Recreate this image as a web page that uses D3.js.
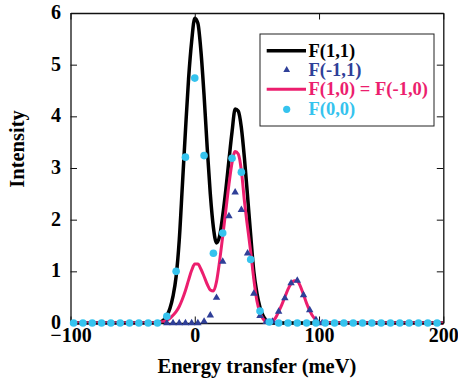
<!DOCTYPE html>
<html>
<head>
	<meta charset="utf-8">
	<script src="https://d3js.org/d3.v7.min.js"></script>
	<style>
		text { font-family: "Liberation Serif"; font-weight: bold; }
	</style>
</head>
<body style="margin:0">
	<svg width="458" height="386" font-family="Liberation Serif"></svg>
	<script>
		// energy grid of the two calculated curves (meV)
		const lineE = [-100, -32.5, -30, -27.5, -25, -22.5, -20, -17.5, -15, -12.5, -10, -7.5, -5, -2.5,
			0, 2.5, 5, 7.5, 10, 12.5, 15, 17.5, 20, 22.5, 25, 27.5, 30, 32.5, 35, 37.5, 40, 42.5, 45,
			47.5, 50, 52.5, 55, 57.5, 60, 62.5, 65, 67.5, 70, 72.5, 75, 77.5, 80, 82.5, 85, 87.5, 90,
			92.5, 95, 97.5, 100, 102.5, 105, 200];

		// F(1,1)
		const f11 = [0, 0, 0, 0.02, 0.06, 0.14, 0.28, 0.52, 0.9, 1.6, 2.65, 3.72, 4.72, 5.45,
			5.9, 5.8, 5.25, 4.4, 3.4, 2.5, 1.85, 1.55, 1.68, 2.08, 2.58, 3.15, 3.7, 4.14, 4.1, 3.78, 3.18, 2.45, 1.7,
			1.0, 0.58, 0.3, 0.14, 0.05, 0.01, 0, 0, 0, 0, 0, 0, 0, 0, 0, 0, 0, 0,
			0, 0, 0, 0, 0, 0, 0];

		// F(1,0) = F(-1,0)
		const f10 = [0, 0, 0.01, 0.02, 0.03, 0.05, 0.09, 0.15, 0.22, 0.32, 0.46, 0.63, 0.83, 1.02,
			1.14, 1.14, 1.04, 0.9, 0.75, 0.64, 0.62, 0.8, 1.2, 1.68, 2.18, 2.68, 3.1, 3.32, 3.27, 2.95, 2.35, 1.85, 1.38,
			0.85, 0.43, 0.2, 0.08, 0.02, 0, 0.03, 0.1, 0.22, 0.35, 0.5, 0.65, 0.76, 0.82, 0.81, 0.71, 0.55, 0.38,
			0.24, 0.13, 0.06, 0.02, 0, 0, 0];

		// F(-1,1) points
		const triE = [-22.5, -17.5, -12.5, -7.5, -2.5, 2.5, 7.5, 12.5, 17.5, 22.5, 27.5, 32.5, 37.5, 42.5,
			47.5, 52.5, 57.5, 62.5, 67.5, 72.5, 77.5, 82.5, 87.5, 92.5, 97.5, 102.5];
		const fm11 = [0, 0, 0, 0, 0, 0, 0.03, 0.15, 0.49, 1.19, 2.07, 2.53, 2.19, 1.35,
			0.57, 0.14, 0.02, 0.03, 0.22, 0.48, 0.77, 0.82, 0.54, 0.25, 0.06, 0];

		// F(0,0) points
		const dotE = [-97.5, -90, -82.5, -75, -67.5, -60, -52.5, -45, -37.5, -30, -22.5, -15, -7.5, 0,
			7.5, 15, 22.5, 30, 37.5, 45, 52.5, 60, 67.5, 75, 82.5, 90, 97.5, 105, 112.5, 120, 127.5,
			135, 142.5, 150, 157.5, 165, 172.5, 180, 187.5, 195];
		const f00 = [0, 0, 0, 0, 0, 0, 0, 0, 0, 0, 0.13, 1.0, 3.21, 4.74,
			3.24, 1.35, 1.74, 3.19, 2.92, 1.23, 0.23, 0.02, 0, 0, 0, 0, 0, 0, 0, 0, 0,
			0, 0, 0, 0, 0, 0, 0, 0, 0];

		const xTicks = [-100, 0, 100, 200];
		const yTicks = [0, 1, 2, 3, 4, 5, 6];
		const legendNames = ["F(1,1)", "F(-1,1)", "F(1,0) = F(-1,0)", "F(0,0)"];

		const cBlack = "#000000", cBlue = "#2f3f98", cPink = "#ec1e6e", cCyan = "#35c3ee";
		const serif = '"Liberation Serif"';

		const svg = d3.select("svg"),
			margin = {top: 13, right: 15, bottom: 63, left: 70.5},
			width = 443.3 - margin.left,
			height = 323 - margin.top,
			g = svg.append("g").attr("transform", `translate(${margin.left},${margin.top})`);

		const x = d3.scaleLinear().domain([-100, 200]).range([0, width]);
		const y = d3.scaleLinear().domain([0, 6]).range([height, 0]);

		// curves
		const line = d3.line().x(d => x(d[0])).y(d => y(d[1])).curve(d3.curveMonotoneX);
		g.append("path")
			.datum(lineE.map((e, i) => [e, f11[i]]))
			.attr("fill", "none").attr("stroke", cBlack).attr("stroke-width", 3.5)
			.attr("stroke-linejoin", "round")
			.attr("d", line);
		g.append("path")
			.datum(lineE.map((e, i) => [e, f10[i]]))
			.attr("fill", "none").attr("stroke", cPink).attr("stroke-width", 3)
			.attr("stroke-linejoin", "round")
			.attr("d", line);

		// axes, ticks pointing inward on all four sides
		const tick = -6.5;
		const ax = g.append("g").attr("transform", `translate(0,${height})`)
			.call(d3.axisBottom(x).tickValues(xTicks).tickSize(tick).tickSizeOuter(0).tickPadding(4.5)
				.tickFormat(d3.format("d")));
		const ay = g.append("g")
			.call(d3.axisLeft(y).tickValues(yTicks).tickSize(tick).tickSizeOuter(0).tickPadding(9.5)
				.tickFormat(d3.format("d")));
		g.append("g")
			.call(d3.axisTop(x).tickValues(xTicks).tickSize(tick).tickSizeOuter(0).tickFormat(""));
		g.append("g").attr("transform", `translate(${width},0)`)
			.call(d3.axisRight(y).tickValues(yTicks).tickSize(tick).tickSizeOuter(0).tickFormat(""));

		g.selectAll(".domain").attr("stroke", "#111").attr("stroke-width", 1.3);
		g.selectAll(".tick line").attr("stroke", "#111").attr("stroke-width", 1);
		g.selectAll("g").attr("font-family", "Liberation Serif").attr("font-size", 20);
		g.selectAll(".tick text")
			.attr("fill", "#000")
			.style("font-family", serif)
			.style("font-weight", "bold")
			.style("font-size", "20px");
		ay.selectAll(".tick text").attr("dy", "0.28em");

		// markers
		g.selectAll(".tri")
			.data(triE.map((e, i) => [e, fm11[i]]))
			.enter().append("path")
			.attr("class", "tri")
			.attr("transform", d => `translate(${x(d[0])},${y(d[1])})`)
			.attr("d", d3.symbol().type(d3.symbolTriangle).size(24))
			.attr("fill", cBlue);

		g.selectAll(".dot")
			.data(dotE.map((e, i) => [e, f00[i]]))
			.enter().append("circle")
			.attr("class", "dot")
			.attr("cx", d => x(d[0]))
			.attr("cy", d => y(d[1]))
			.attr("r", 3.8)
			.attr("fill", cCyan);

		// axis titles
		svg.append("text")
			.attr("x", margin.left + width / 2).attr("y", 373)
			.attr("text-anchor", "middle")
			.style("font-family", serif).style("font-weight", "bold").style("font-size", "20.5px")
			.text("Energy transfer (meV)");
		svg.append("text")
			.attr("transform", "translate(24,149) rotate(-90)")
			.attr("text-anchor", "middle")
			.style("font-family", serif).style("font-weight", "bold").style("font-size", "20.5px")
			.text("Intensity");

		// legend
		const lg = svg.append("g").attr("transform", "translate(260,34)");
		lg.append("rect").attr("width", 174).attr("height", 92)
			.attr("fill", "#fff").attr("stroke", "#222").attr("stroke-width", 1);
		const rowY = [16.7, 36, 55.3, 75.3];
		const colors = [cBlack, cBlue, cPink, cCyan];
		lg.append("line").attr("x1", 6.7).attr("x2", 46).attr("y1", rowY[0]).attr("y2", rowY[0])
			.attr("stroke", cBlack).attr("stroke-width", 3.5);
		lg.append("path")
			.attr("transform", `translate(26.7,${rowY[1]})`)
			.attr("d", d3.symbol().type(d3.symbolTriangle).size(20))
			.attr("fill", cBlue);
		lg.append("line").attr("x1", 6.7).attr("x2", 46).attr("y1", rowY[2]).attr("y2", rowY[2])
			.attr("stroke", cPink).attr("stroke-width", 3);
		lg.append("circle").attr("cx", 26.7).attr("cy", rowY[3]).attr("r", 3.6).attr("fill", cCyan);
		legendNames.forEach((n, i) => {
			lg.append("text")
				.attr("x", 48.5).attr("y", rowY[i] + 6)
				.attr("fill", colors[i])
				.style("font-family", serif).style("font-weight", "bold").style("font-size", "18.5px")
				.text(n);
		});
	</script>
</body>
</html>
